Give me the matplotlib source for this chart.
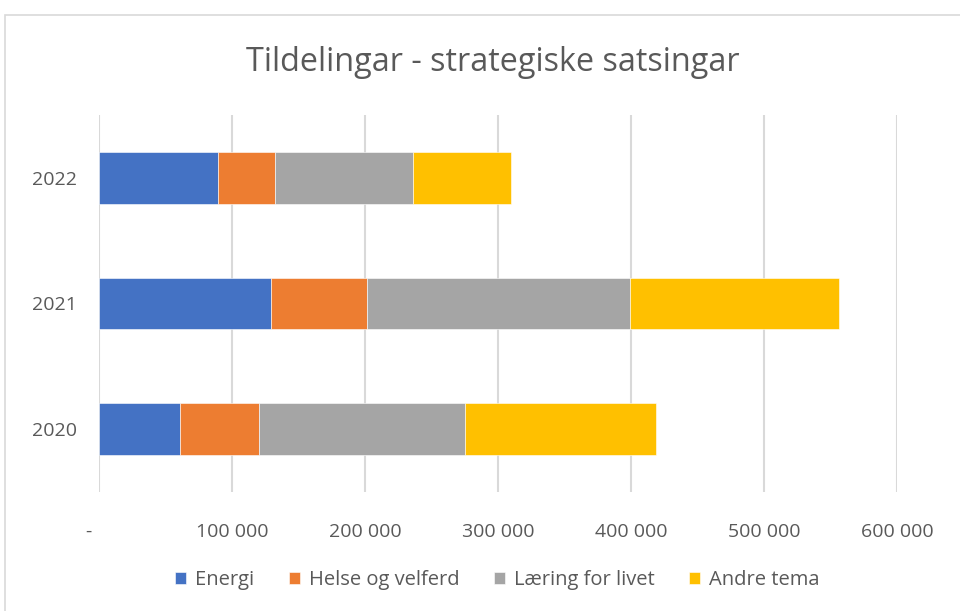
import matplotlib.pyplot as plt
from matplotlib.ticker import FuncFormatter
from matplotlib.patches import Rectangle

years = ['2020', '2021', '2022']
series = ['Energi', 'Helse og velferd', 'Læring for livet', 'Andre tema']
energi = [61000, 129600, 89500]
helse = [59000, 72000, 42600]
laering = [155000, 198000, 104300]
andre = [143700, 156500, 73300]
colors = ['#4472C4', '#ED7D31', '#A5A5A5', '#FFC000']

plt.rcParams['font.family'] = ['Open Sans', 'DejaVu Sans']
txt = '#595959'

fig = plt.figure(figsize=(9.6, 6.11), dpi=100)
# chart border (cropped at right and bottom)
fig.patches.append(Rectangle((5 / 960, -0.1), 1.2, 1 - 15 / 611 + 0.1,
                             transform=fig.transFigure, fill=False,
                             edgecolor='#d9d9d9', linewidth=1.2))

ax = fig.add_axes([99 / 960, 119 / 611, 798 / 960, 377 / 611])

left = [0, 0, 0]
for name, vals, c in zip(series, [energi, helse, laering, andre], colors):
    ax.barh(years, vals, left=left, height=0.41, color=c, label=name,
            edgecolor='white', linewidth=0.4)
    left = [l + v for l, v in zip(left, vals)]

ax.set_xlim(0, 600000)
ax.set_ylim(-0.5, 2.5)
ax.set_xticks(range(0, 600001, 100000))
ax.xaxis.set_major_formatter(FuncFormatter(
    lambda v, p: '-    ' if v == 0 else f'{int(v):,}'.replace(',', ' ')))
ax.grid(axis='x', color='#d9d9d9', linewidth=1.5)
ax.set_axisbelow(True)
for s in ax.spines.values():
    s.set_visible(False)
ax.tick_params(axis='both', length=0, colors=txt, labelsize=14)
ax.tick_params(axis='x', pad=22)
ax.tick_params(axis='y', pad=16)

fig.text(0.513, 0.897, 'Tildelingar - strategiske satsingar', ha='center',
         va='center', fontsize=23.3, color=txt)

fig.legend(loc='center', bbox_to_anchor=(0.518, 0.051), ncol=4, frameon=False,
           fontsize=14.5, handlelength=0.55, handleheight=0.55, handletextpad=0.45,
           columnspacing=1.7, labelcolor=txt)

plt.savefig('out.png')
